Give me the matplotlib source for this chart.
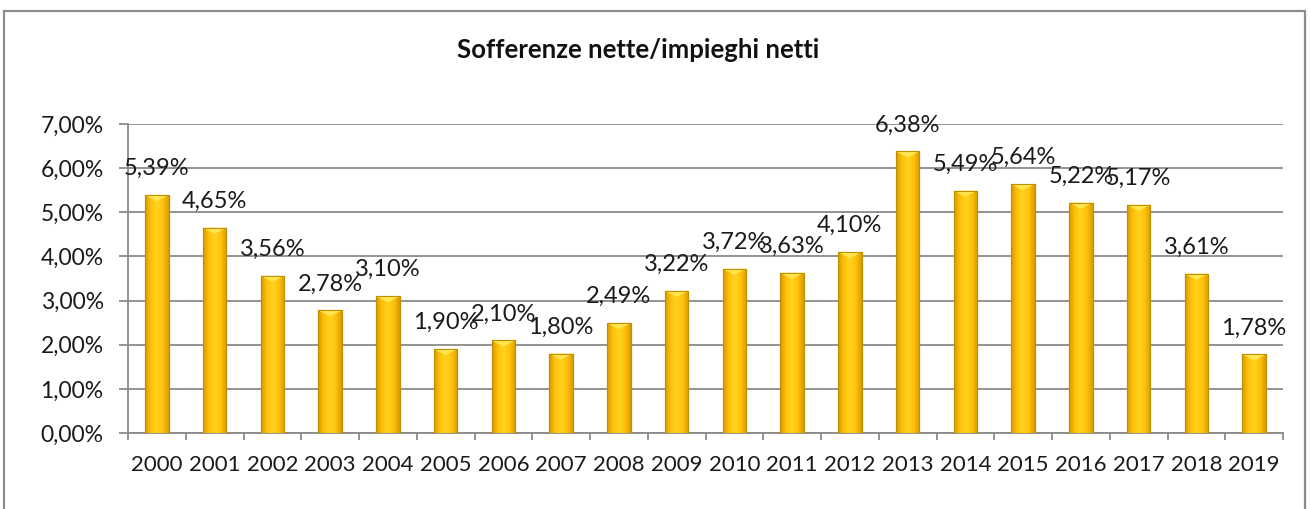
import matplotlib
matplotlib.use("Agg")
import matplotlib.pyplot as plt
import numpy as np
from matplotlib.patches import Polygon, Rectangle
from matplotlib.colors import LinearSegmentedColormap

years = ["2000", "2001", "2002", "2003", "2004", "2005", "2006", "2007", "2008", "2009",
         "2010", "2011", "2012", "2013", "2014", "2015", "2016", "2017", "2018", "2019"]
values = [5.39, 4.65, 3.56, 2.78, 3.10, 1.90, 2.10, 1.80, 2.49, 3.22,
          3.72, 3.63, 4.10, 6.38, 5.49, 5.64, 5.22, 5.17, 3.61, 1.78]
title = "Sofferenze nette/impieghi netti"
yticks = [0, 1, 2, 3, 4, 5, 6, 7]

plt.rcParams['font.family'] = ['Lato', 'DejaVu Sans']

fig = plt.figure(figsize=(13.11, 5.09), dpi=100)
ax = fig.add_axes([128/1311, 1 - 433/509, (1283 - 128)/1311, (433 - 124)/509])

grid_c = "#8a8a8a"
txt_c = "#1a1a1a"
x = np.arange(len(years))
w = 0.41
bars = ax.bar(x, values, width=w, color="#FFC000", edgecolor="#C99700", linewidth=0.8, zorder=3)

cmap = LinearSegmentedColormap.from_list("gold", ["#D99A00", "#FFC20A", "#FFD21F", "#FFC20A", "#D99A00"])
grad = np.linspace(0, 1, 64).reshape(1, -1)
for b, v in zip(bars, values):
    x0 = b.get_x()
    x1 = x0 + b.get_width()
    im = ax.imshow(grad, extent=(x0, x1, 0, v), aspect='auto', cmap=cmap, zorder=3.5,
                   interpolation='bicubic')
    im.set_clip_path(b)
    d = 0.14
    tri = Polygon([(x0, v), (x1, v), ((x0 + x1) / 2, v - d)], closed=True,
                  facecolor="#FFE650", edgecolor="none", zorder=4)
    ax.add_patch(tri)
    ax.add_patch(Rectangle((x0, 0), x1 - x0, v, fill=False, edgecolor="#C08F00",
                           linewidth=0.8, zorder=4.5))
    ax.annotate(f"{v:.2f}%".replace(".", ","), xy=(b.get_x() + b.get_width() / 2, v),
                xytext=(0, 19), textcoords="offset points", ha="center", va="center",
                fontsize=17, color=txt_c, zorder=6)

ax.set_xlim(-0.5, len(years) - 0.5)
ax.set_ylim(0, 7)
ax.set_yticks(yticks)
ax.set_yticklabels([f"{t:.2f}%".replace(".", ",") for t in yticks])
ax.set_xticks(x)
ax.set_xticklabels(years)
ax.set_xticks(np.arange(-0.5, len(years), 1), minor=True)
ax.tick_params(axis='x', which='major', length=0, pad=16, labelsize=16, labelcolor=txt_c)
ax.tick_params(axis='x', which='minor', length=5, width=1.3, color=grid_c, direction='out')
ax.tick_params(axis='y', which='major', length=6.5, width=1.3, color=grid_c, pad=11,
               labelsize=16.5, labelcolor=txt_c)
ax.grid(axis='y', color=grid_c, linewidth=1.3, zorder=0)
ax.set_axisbelow(True)
for s in ["top", "right"]:
    ax.spines[s].set_visible(False)
for s in ["left", "bottom"]:
    ax.spines[s].set_color(grid_c)
    ax.spines[s].set_linewidth(1.3)

fig.text(638/1311, 1 - 50/509, title, ha="center", va="center", fontsize=18.5,
         fontweight="bold", color="#111111")

border = Rectangle((4/1311, -0.02), (1305 - 4)/1311, (509 - 11)/509 + 0.02,
                   transform=fig.transFigure, fill=False, edgecolor="#8c8c8c", linewidth=1.6)
fig.add_artist(border)

fig.savefig("out.png", dpi=100)
